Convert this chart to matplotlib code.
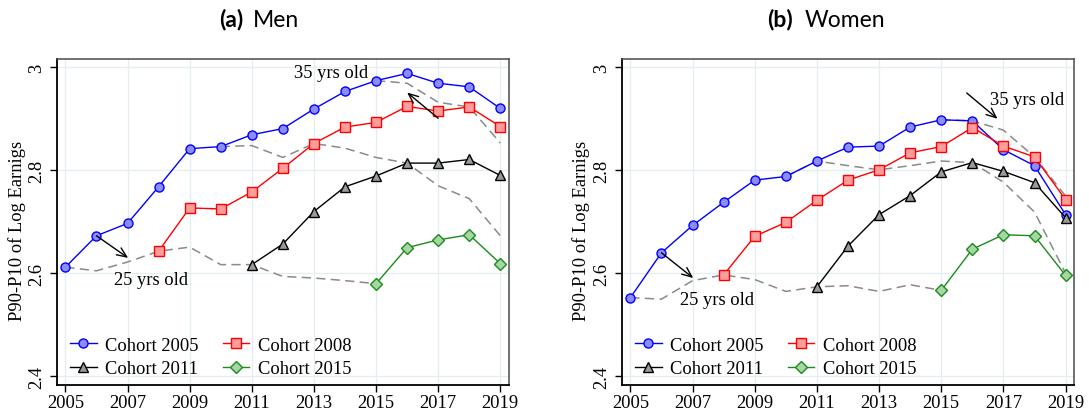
import matplotlib.pyplot as plt

# P90-P10 of log earnings by entry cohort, 2005-2019
years = list(range(2005, 2020))

men_c2005 = [2.612, 2.673, 2.697, 2.768, 2.842, 2.846, 2.869, 2.881, 2.919, 2.953,
             2.974, 2.988, 2.969, 2.962, 2.920]
men_c2008 = [2.643, 2.727, 2.725, 2.758, 2.804, 2.852, 2.884, 2.893, 2.924, 2.915,
             2.923, 2.885]
men_c2011 = [2.617, 2.657, 2.720, 2.768, 2.789, 2.814, 2.814, 2.821, 2.790]
men_c2015 = [2.580, 2.650, 2.665, 2.675, 2.619]
men_age25 = [2.612, 2.605, 2.622, 2.643, 2.651, 2.617, 2.617, 2.594, 2.591, 2.586, 2.580]
men_age30 = [2.846, 2.848, 2.825, 2.852, 2.843, 2.825, 2.814, 2.770, 2.745, 2.673]
men_age35 = [2.974, 2.969, 2.932, 2.923, 2.853]

women_c2005 = [2.553, 2.640, 2.693, 2.738, 2.781, 2.788, 2.818, 2.845, 2.847, 2.884,
               2.898, 2.896, 2.840, 2.809, 2.714]
women_c2008 = [2.597, 2.672, 2.699, 2.742, 2.781, 2.801, 2.834, 2.846, 2.883, 2.847,
               2.826, 2.743]
women_c2011 = [2.574, 2.653, 2.714, 2.751, 2.797, 2.815, 2.798, 2.776, 2.708]
women_c2015 = [2.567, 2.647, 2.675, 2.673, 2.596]
women_age25 = [2.553, 2.550, 2.586, 2.597, 2.588, 2.565, 2.574, 2.576, 2.565, 2.578, 2.567]
women_age30 = [2.788, 2.818, 2.809, 2.801, 2.809, 2.818, 2.815, 2.777, 2.719, 2.600]
women_age35 = [2.898, 2.896, 2.878, 2.826, 2.750]

cohort_starts = [2005, 2008, 2011, 2015]
cohort_labels = ["Cohort 2005", "Cohort 2008", "Cohort 2011", "Cohort 2015"]
xticks = [2005, 2007, 2009, 2011, 2013, 2015, 2017, 2019]
yticks = [2.4, 2.6, 2.8, 3.0]
ytick_labels = ["2.4", "2.6", "2.8", "3"]

styles = [
    dict(color="#0000ff", marker="o", mfc="#8c8cff", mec="#0000ff"),
    dict(color="#ff0000", marker="s", mfc="#ff9c9c", mec="#ff0000"),
    dict(color="black", marker="^", mfc="#9a9a9a", mec="black"),
    dict(color="#1a8c1a", marker="D", mfc="#a6d6a6", mec="#1a8c1a"),
]

SERIF = "Liberation Serif"
FS = 13.3

fig = plt.figure(figsize=(10.89, 4.14), dpi=100)
ax_m = fig.add_axes([57 / 1089, 1 - 385.7 / 414, 451.7 / 1089, 325.7 / 414])
ax_w = fig.add_axes([622 / 1089, 1 - 385.7 / 414, 452 / 1089, 325.7 / 414])


def draw_panel(ax, cohorts, age25, age30, age35, ann, label_x):
    dash = dict(color="#8a8a8a", lw=1.1, ls=(0, (6, 3.5)), zorder=2)
    ax.plot(years[:11], age25, **dash)
    ax.plot(years[5:], age30, **dash)
    ax.plot(years[10:], age35, **dash)

    handles = []
    for start, vals, st, lab in zip(cohort_starts, cohorts, styles, cohort_labels):
        xs = years[years.index(start):]
        h, = ax.plot(xs, vals, lw=1.0, ms=6.5, mew=1.0, label=lab, zorder=3, **st)
        handles.append(h)

    for tail, head, txt_pos, txt in ann:
        ax.annotate("", xy=head, xytext=tail,
                    arrowprops=dict(arrowstyle="->,head_length=0.7,head_width=0.3",
                                    color="black", lw=1.0, shrinkA=0, shrinkB=0))
        ax.text(txt_pos[0], txt_pos[1], txt, ha="center", va="center",
                fontsize=FS, family=SERIF)

    ax.set_xlim(2004.73, 2019.27)
    ax.set_ylim(2.384, 3.016)
    ax.set_xticks(xticks)
    ax.set_xticklabels([str(x) for x in xticks], family=SERIF, fontsize=FS)
    ax.set_yticks(yticks)
    ax.set_yticklabels(ytick_labels, family=SERIF, fontsize=FS, rotation=90,
                       va="center")
    ax.tick_params(direction="out", length=5, width=1.0, color="black", pad=2)
    ax.tick_params(axis="y", pad=3.5)
    ax.grid(True, color="#e4eef0", lw=0.9, zorder=0)
    ax.set_axisbelow(True)
    for side in ["left", "bottom"]:
        ax.spines[side].set_color("black")
        ax.spines[side].set_linewidth(1.3)
    for side in ["top", "right"]:
        ax.spines[side].set_color("#4a4a4a")
        ax.spines[side].set_linewidth(1.1)

    order = [handles[0], handles[2], handles[1], handles[3]]
    ax.legend(order, [h.get_label() for h in order], ncol=2, frameon=False,
              loc="lower left", bbox_to_anchor=(0.0, -0.017),
              prop=dict(family=SERIF, size=FS), handlelength=1.45,
              handletextpad=0.45, columnspacing=1.3, labelspacing=0.35,
              borderaxespad=0.3)

    ax.set_ylabel("P90-P10 of Log Earnigs", family=SERIF, fontsize=FS)
    ax.yaxis.set_label_coords(label_x, 0.475)


draw_panel(ax_m, [men_c2005, men_c2008, men_c2011, men_c2015],
           men_age25, men_age30, men_age35,
           [((2006, 2.673), (2007.02, 2.630), (2007.75, 2.588), "25 yrs old"),
            ((2017, 2.901), (2016.0, 2.951), (2013.54, 2.989), "35 yrs old")],
           -0.068)
draw_panel(ax_w, [women_c2005, women_c2008, women_c2011, women_c2015],
           women_age25, women_age30, women_age35,
           [((2006, 2.640), (2007.02, 2.591), (2007.77, 2.549), "25 yrs old"),
            ((2015.82, 2.950), (2016.81, 2.900), (2017.76, 2.938), "35 yrs old")],
           -0.070)

# panel titles: bold letter, regular name
for x_letter, x_name, letter, name in [(243, 253, "(a)", "Men"),
                                       (793, 805, "(b)", "Women")]:
    fig.text(x_letter / 1089, 1 - 26.7 / 414, letter, ha="right", va="baseline",
             family="Lato", weight="bold", fontsize=16.5)
    fig.text(x_name / 1089, 1 - 26.7 / 414, name, ha="left", va="baseline",
             family="Lato", fontsize=16.5)

fig.savefig("out.png", dpi=100)
